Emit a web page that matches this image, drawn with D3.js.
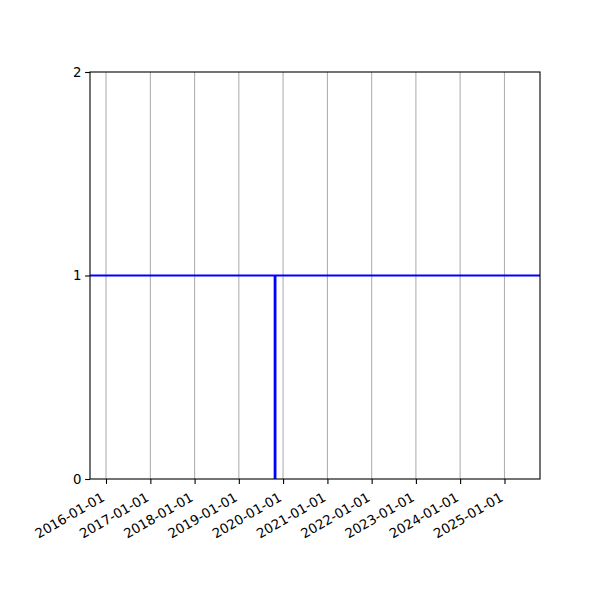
<!DOCTYPE html>
<html>
<head>
<meta charset="utf-8">
<script src="https://cdn.jsdelivr.net/npm/d3@7"></script>
<style>
  body { margin: 0; background: #fff; }
  text { font-family: "DejaVu Sans", sans-serif; }
</style>
</head>
<body>
<svg id="drawing_region"></svg>
<script>
// x range shown on the axis
const xDomain = ["2015-08-22", "2025-10-21"];
// yearly ticks
const tickDates = ["2016-01-01", "2017-01-01", "2018-01-01", "2019-01-01", "2020-01-01",
                   "2021-01-01", "2022-01-01", "2023-01-01", "2024-01-01", "2025-01-01"];
const yTicks = [0, 1, 2];

// level series (flat at 1)
const levelDates = ["2015-08-22", "2019-10-27", "2025-10-21"];
const levelValues = [1, 1, 1];

// drop at one date
const dropDates = ["2019-10-27", "2019-10-27"];
const dropValues = [0, 1];

const parse = d3.timeParse("%Y-%m-%d");

var width = 600;
var height = 600;
var margin = {top: 72, right: 60, bottom: 121, left: 90};

var svg = d3.select('#drawing_region')
    .attr('width', width)
    .attr('height', height);

const inner_width = width - margin.left - margin.right;
const inner_height = height - margin.top - margin.bottom;

const chart = svg.append('g')
    .attr('transform', `translate(${margin.left}, ${margin.top})`);

const xscale = d3.scaleTime()
    .domain(xDomain.map(parse))
    .range([0, inner_width]);

const yscale = d3.scaleLinear()
    .domain([0, 2])
    .range([inner_height, 0]);

// clip for the lines
svg.append('defs').append('clipPath').attr('id', 'clip')
    .append('rect').attr('width', inner_width).attr('height', inner_height);

// vertical grid
chart.append('g')
    .selectAll('line')
    .data(tickDates.map(parse))
    .enter().append('line')
    .attr('x1', d => xscale(d)).attr('x2', d => xscale(d))
    .attr('y1', 0).attr('y2', inner_height)
    .attr('stroke', '#b0b0b0')
    .attr('stroke-width', 1.1);

const line = d3.line()
    .x(d => xscale(d[0]))
    .y(d => yscale(d[1]));

const lines = chart.append('g').attr('clip-path', 'url(#clip)');

lines.append('path')
    .attr('d', line(levelDates.map((d, i) => [parse(d), levelValues[i]])))
    .attr('fill', 'none')
    .attr('stroke', '#0000ff')
    .attr('stroke-width', 2.1);

lines.append('path')
    .attr('d', line(dropDates.map((d, i) => [parse(d), dropValues[i]])))
    .attr('fill', 'none')
    .attr('stroke', '#0000ff')
    .attr('stroke-width', 2.8);

// axes
const xaxis = d3.axisBottom(xscale)
    .tickValues(tickDates.map(parse))
    .tickFormat(d3.timeFormat("%Y-%m-%d"))
    .tickSize(4.9)
    .tickSizeOuter(0);

const yaxis = d3.axisLeft(yscale)
    .tickValues(yTicks)
    .tickFormat(d3.format("d"))
    .tickSize(4.9)
    .tickSizeOuter(0);

const xg = chart.append('g')
    .attr('transform', `translate(0, ${inner_height})`)
    .call(xaxis);

xg.select('.domain').remove();
xg.selectAll('.tick line').attr('stroke', '#000').attr('stroke-width', 1.1);
xg.selectAll('.tick text')
    .attr('font-size', 13.3)
    .attr('font-family', 'DejaVu Sans')
    .attr('fill', '#000')
    .attr('text-anchor', 'end')
    .attr('y', 0)
    .attr('dy', 0)
    .attr('transform', 'translate(-1, 21) rotate(-30)');

const yg = chart.append('g').call(yaxis);
yg.select('.domain').remove();
yg.selectAll('.tick line').attr('stroke', '#000').attr('stroke-width', 1.1);
yg.selectAll('.tick text')
    .attr('font-size', 13.3)
    .attr('font-family', 'DejaVu Sans')
    .attr('fill', '#000')
    .attr('x', -8.5);

// frame
chart.append('rect')
    .attr('width', inner_width)
    .attr('height', inner_height)
    .attr('fill', 'none')
    .attr('stroke', '#000')
    .attr('stroke-width', 1.1);
</script>
</body>
</html>
